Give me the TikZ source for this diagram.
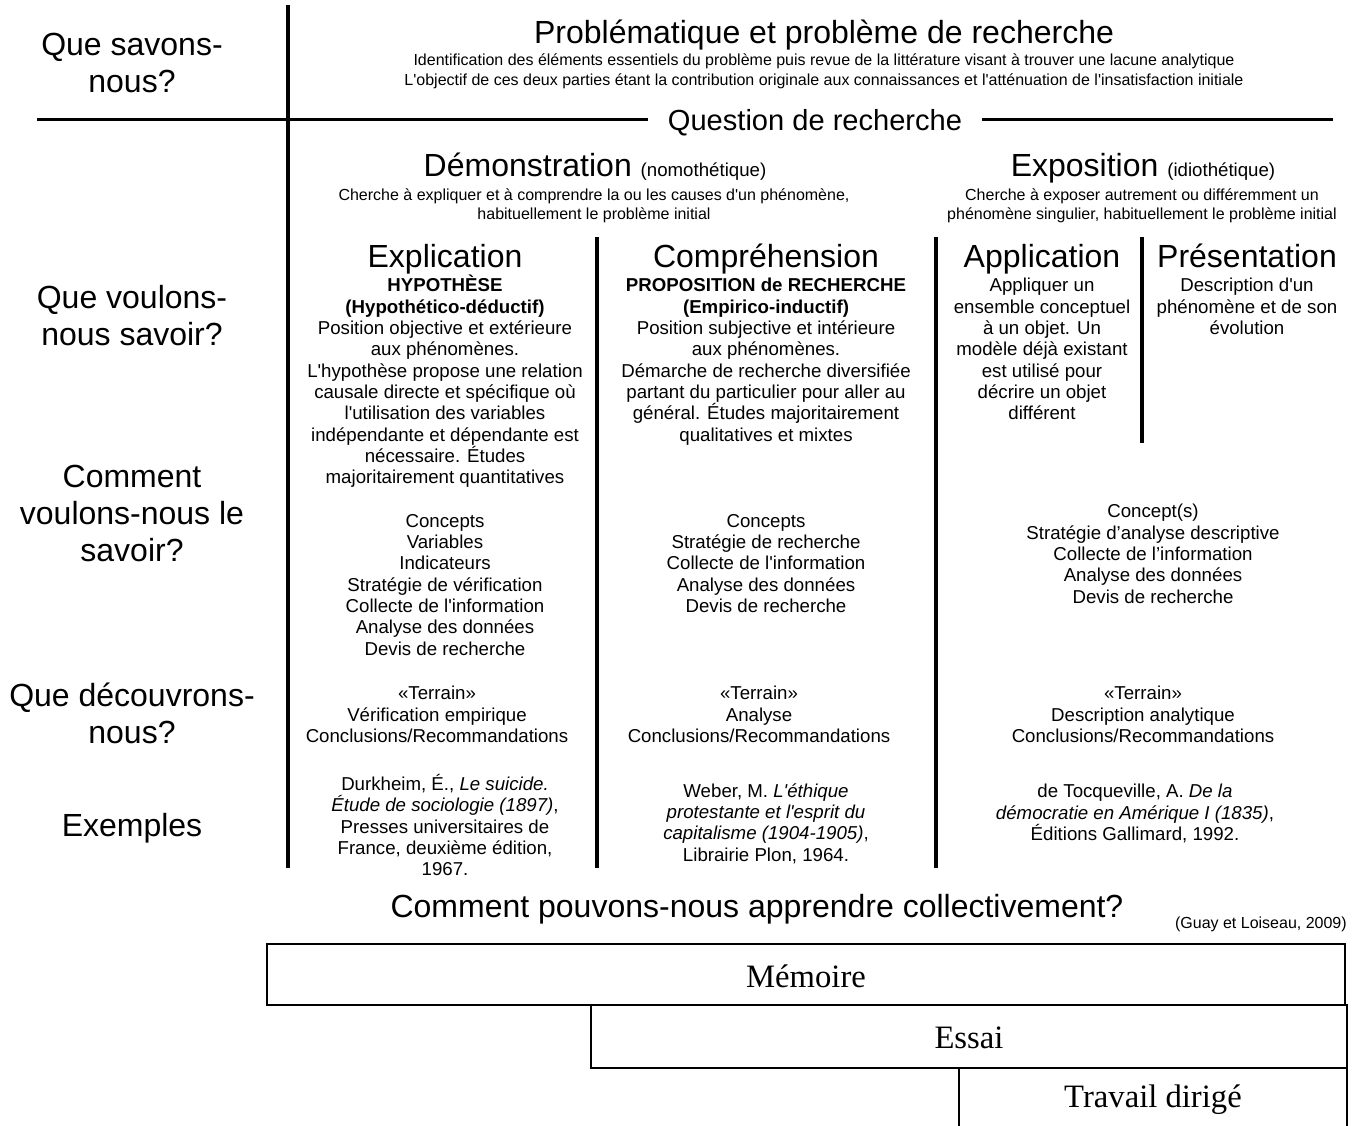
\documentclass[tikz,border=0pt]{standalone}
\usepackage{fontspec}
\setmainfont{Liberation Sans}[Ligatures=TeXOff]
\newfontfamily\boxfont{Liberation Serif}
\begin{document}
\begin{tikzpicture}[x=0.75pt,y=0.75pt,yscale=-1,xscale=1,
  headtext/.style={font=\fontsize{24}{28}\selectfont, inner sep=0pt},
  sidelabel/.style={font=\fontsize{24}{27.75}\selectfont, align=center, anchor=north, inner sep=0pt},
  bodytext/.style={font=\fontsize{14}{16}\selectfont, align=center, anchor=north, inner sep=0pt},
  smalltext/.style={font=\fontsize{12}{14.25}\selectfont, align=center, anchor=north, inner sep=0pt},
  notetext/.style={font=\fontsize{12}{15}\selectfont, align=center, anchor=north, inner sep=0pt},
  boxlabel/.style={font=\boxfont\fontsize{24.5}{28}\selectfont, inner sep=0pt},
  thickline/.style={line width=3pt},
  sepline/.style={line width=3.4pt}]
\useasboundingbox (0,0) rectangle (1356,1126);

%Straight Lines
\draw [thickline] (288,5) -- (288,868) ;
\draw [sepline] (597,237) -- (597,868) ;
\draw [sepline] (936,237) -- (936,868) ;
\draw [sepline] (1142,237) -- (1142,443) ;

% Text Node
\draw (132,33) node (savons) [sidelabel] {Que savons-\\nous?};
% Text Node
\draw (132,285) node (voulons) [sidelabel] {Que voulons-\\nous savoir?};
% Text Node
\draw (132,465) node (comment) [sidelabel] {Comment\\voulons-nous le\\savoir?};
% Text Node
\draw (132,683) node (decouvrons) [sidelabel] {Que découvrons-\\nous?};
% Text Node
\draw (132,813) node (exemples) [sidelabel] {Exemples};

% Text Node
\draw (824,44) node (probleme) [headtext, anchor=base] {Problématique et problème de recherche};
% Text Node
\draw (824,53) node (identif) [notetext] {Identification des éléments essentiels du problème puis revue de la littérature visant à trouver une lacune analytique\\L'objectif de ces deux parties étant la contribution originale aux connaissances et l'atténuation de l'insatisfaction initiale};

% Text Node
\draw (815,131) node (question) [font=\fontsize{21.8}{26}\selectfont, anchor=base, inner xsep=15pt, inner ysep=0pt] {Question de recherche};
%Straight Lines
\coordinate (qleft) at (37,120);
\coordinate (qright) at (1333,120);
\draw [line width=2.25pt] (qleft) -- (qleft -| question.west) ;
\draw [line width=2.25pt] (question.east |- qright) -- (qright) ;

% Text Node
\draw (595,177) node (demo) [headtext, anchor=base] {Démonstration {\fontsize{14}{16}\selectfont(nomothétique)}};
% Text Node
\draw (594,188) node (demotxt) [smalltext] {Cherche à expliquer et à comprendre la ou les causes d'un phénomène,\\habituellement le problème initial};
% Text Node
\draw (1143,177) node (expo) [headtext, anchor=base] {Exposition {\fontsize{14}{16}\selectfont(idiothétique)}};
% Text Node
\draw (1142,188) node (expotxt) [smalltext] {Cherche à exposer autrement ou différemment un\\phénomène singulier, habituellement le problème initial};

% Text Node
\draw (445,268) node (explic) [headtext, anchor=base] {Explication};
% Text Node
\draw (445,275) node (explictxt) [bodytext] {\textbf{HYPOTHÈSE}\\\textbf{(Hypothético-déductif)}\\Position objective et extérieure\\aux phénomènes.\\L'hypothèse propose une relation\\causale directe et spécifique où\\l'utilisation des variables\\indépendante et dépendante est\\nécessaire. Études\\majoritairement quantitatives};
% Text Node
\draw (766,268) node (compr) [headtext, anchor=base] {Compréhension};
% Text Node
\draw (766,278) node (comprtxt) [bodytext] {\textbf{PROPOSITION de RECHERCHE}\\\textbf{(Empirico-inductif)}\\Position subjective et intérieure\\aux phénomènes.\\Démarche de recherche diversifiée\\partant du particulier pour aller au\\général. Études majoritairement\\qualitatives et mixtes};
% Text Node
\draw (1042,268) node (appli) [headtext, anchor=base] {Application};
% Text Node
\draw (1042,278) node (applitxt) [bodytext] {Appliquer un\\ensemble conceptuel\\à un objet. Un\\modèle déjà existant\\est utilisé pour\\décrire un objet\\différent};
% Text Node
\draw (1247,268) node (present) [headtext, anchor=base] {Présentation};
% Text Node
\draw (1247,278) node (presenttxt) [bodytext] {Description d'un\\phénomène et de son\\évolution};

% Text Node
\draw (445,514) node (conc1) [bodytext] {Concepts\\Variables\\Indicateurs\\Stratégie de vérification\\Collecte de l'information\\Analyse des données\\Devis de recherche};
% Text Node
\draw (766,514) node (conc2) [bodytext] {Concepts\\Stratégie de recherche\\Collecte de l'information\\Analyse des données\\Devis de recherche};
% Text Node
\draw (1153,504) node (conc3) [bodytext] {Concept(s)\\Stratégie d’analyse descriptive\\Collecte de l’information\\Analyse des données\\Devis de recherche};

% Text Node
\draw (437,686) node (terr1) [bodytext] {«Terrain»\\Vérification empirique\\Conclusions/Recommandations};
% Text Node
\draw (759,686) node (terr2) [bodytext] {«Terrain»\\Analyse\\Conclusions/Recommandations};
% Text Node
\draw (1143,686) node (terr3) [bodytext] {«Terrain»\\Description analytique\\Conclusions/Recommandations};

% Text Node
\draw (445,774) node (ex1) [bodytext] {Durkheim, É., \textit{Le suicide.}\\\textit{Étude de sociologie (1897)},\\Presses universitaires de\\France, deuxième édition,\\1967.};
% Text Node
\draw (766,783) node (ex2) [bodytext] {Weber, M. \textit{L'éthique}\\\textit{protestante et l'esprit du}\\\textit{capitalisme (1904-1905)},\\Librairie Plon, 1964.};
% Text Node
\draw (1135,784) node (ex3) [bodytext] {de Tocqueville, A. \textit{De la}\\\textit{démocratie en Amérique I (1835)},\\Éditions Gallimard, 1992.};

% Text Node
\draw (757,917) node (collectif) [headtext, anchor=base] {Comment pouvons-nous apprendre collectivement?};
% Text Node
\draw (1347,928) node (source) [font=\fontsize{12}{14}\selectfont, anchor=base east, inner sep=0pt] {(Guay et Loiseau, 2009)};

%Shape: Rectangle
\draw [line width=1pt] (267,944) rectangle (1345,1005) ;
\draw [line width=1pt] (591,1005) rectangle (1347,1068) ;
\draw [line width=1pt] (959,1130) -- (959,1068) -- (1347,1068) -- (1347,1130) ;
% Text Node
\draw (806,976) node (memoire) [boxlabel] {Mémoire};
% Text Node
\draw (969,1038) node (essai) [boxlabel] {Essai};
% Text Node
\draw (1153,1100) node (travail) [boxlabel] {Travail dirigé};

\end{tikzpicture}
\end{document}
